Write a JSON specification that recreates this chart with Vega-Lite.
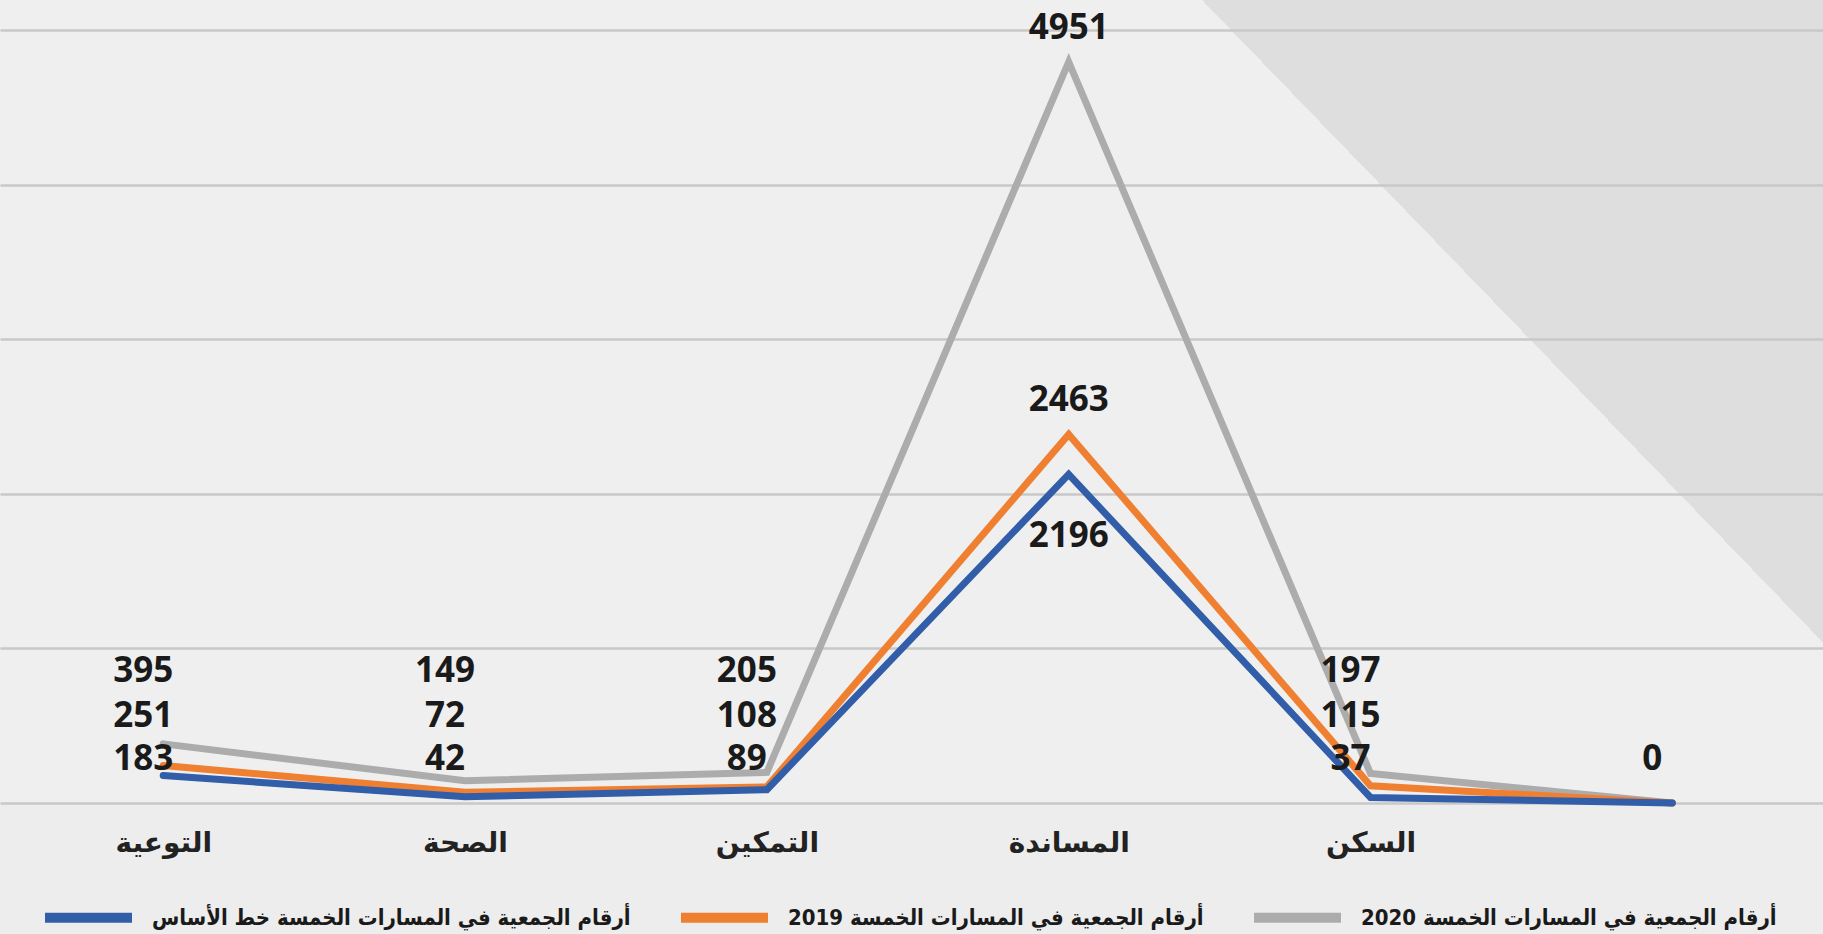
{
  "$schema": "https://vega.github.io/schema/vega-lite/v6.json",
  "width": 1823,
  "height": 803,
  "padding": 0,
  "background": "#ededed",
  "data": {
    "values": [
      {"category": "التوعية", "series": "أرقام الجمعية في المسارات الخمسة 2020", "value": 395},
      {"category": "الصحة", "series": "أرقام الجمعية في المسارات الخمسة 2020", "value": 149},
      {"category": "التمكين", "series": "أرقام الجمعية في المسارات الخمسة 2020", "value": 205},
      {"category": "المساندة", "series": "أرقام الجمعية في المسارات الخمسة 2020", "value": 4951},
      {"category": "السكن", "series": "أرقام الجمعية في المسارات الخمسة 2020", "value": 197},
      {"category": "", "series": "أرقام الجمعية في المسارات الخمسة 2020", "value": 0},
      {"category": "التوعية", "series": "أرقام الجمعية في المسارات الخمسة 2019", "value": 251},
      {"category": "الصحة", "series": "أرقام الجمعية في المسارات الخمسة 2019", "value": 72},
      {"category": "التمكين", "series": "أرقام الجمعية في المسارات الخمسة 2019", "value": 108},
      {"category": "المساندة", "series": "أرقام الجمعية في المسارات الخمسة 2019", "value": 2463},
      {"category": "السكن", "series": "أرقام الجمعية في المسارات الخمسة 2019", "value": 115},
      {"category": "", "series": "أرقام الجمعية في المسارات الخمسة 2019", "value": 0},
      {"category": "التوعية", "series": "أرقام الجمعية في المسارات الخمسة خط الأساس", "value": 183},
      {"category": "الصحة", "series": "أرقام الجمعية في المسارات الخمسة خط الأساس", "value": 42},
      {"category": "التمكين", "series": "أرقام الجمعية في المسارات الخمسة خط الأساس", "value": 89},
      {"category": "المساندة", "series": "أرقام الجمعية في المسارات الخمسة خط الأساس", "value": 2196},
      {"category": "السكن", "series": "أرقام الجمعية في المسارات الخمسة خط الأساس", "value": 37},
      {"category": "", "series": "أرقام الجمعية في المسارات الخمسة خط الأساس", "value": 0}
    ]
  },
  "encoding": {
    "x": {
      "field": "category",
      "type": "nominal",
      "sort": null,
      "scale": {"type": "point", "domain": ["التوعية", "الصحة", "التمكين", "المساندة", "السكن", ""], "padding": 0.52, "align": 0.52},
      "axis": {
        "title": null,
        "labelAngle": 0,
        "ticks": false,
        "domain": false,
        "grid": false,
        "labelFont": "DejaVu Sans",
        "labelFontWeight": "bold",
        "labelFontSize": 28,
        "labelColor": "#222222",
        "labelPadding": 40,
        "labelBaseline": "middle"
      }
    }
  },
  "layer": [
    {
      "mark": {"type": "line", "strokeWidth": 7, "strokeCap": "round", "strokeJoin": "miter"},
      "encoding": {
        "y": {
          "field": "value",
          "type": "quantitative",
          "scale": {"domain": [0, 5365], "nice": false, "zero": true},
          "axis": {
            "title": null,
            "labels": false,
            "ticks": false,
            "domain": false,
            "grid": true,
            "gridColor": "#c8c8c8",
            "gridWidth": 2.5,
            "values": [0, 1033, 2066, 3099, 4132, 5165]
          }
        },
        "color": {
          "field": "series",
          "type": "nominal",
          "scale": {
            "domain": ["أرقام الجمعية في المسارات الخمسة خط الأساس", "أرقام الجمعية في المسارات الخمسة 2019", "أرقام الجمعية في المسارات الخمسة 2020"],
            "range": ["#325da8", "#ef7f31", "#acacac"]
          },
          "legend": {
            "title": null,
            "orient": "none",
            "legendX": 40,
            "legendY": 869,
            "direction": "horizontal",
            "symbolType": "stroke",
            "symbolStrokeWidth": 10,
            "symbolSize": 7569,
            "labelFont": "DejaVu Sans Condensed",
            "labelFontWeight": "bold",
            "labelFontSize": 22,
            "labelColor": "#1a1a1a",
            "labelLimit": 800,
            "labelOffset": 15,
            "columnPadding": 30
          }
        }
      }
    },
    {
      "transform": [{"filter": "datum.category === 'المساندة' && datum.series !== 'أرقام الجمعية في المسارات الخمسة خط الأساس'"}],
      "mark": {"type": "text", "font": "Open Sans", "fontWeight": "bold", "fontSize": 35, "color": "#1a1a1a", "dy": -34, "baseline": "middle"},
      "encoding": {
        "y": {"field": "value", "type": "quantitative"},
        "text": {"field": "value", "type": "quantitative", "format": "d"}
      }
    },
    {
      "transform": [{"filter": "datum.category === 'المساندة' && datum.series === 'أرقام الجمعية في المسارات الخمسة خط الأساس'"}],
      "mark": {"type": "text", "font": "Open Sans", "fontWeight": "bold", "fontSize": 35, "color": "#1a1a1a", "dy": 62, "baseline": "middle"},
      "encoding": {
        "y": {"field": "value", "type": "quantitative"},
        "text": {"field": "value", "type": "quantitative", "format": "d"}
      }
    },
    {
      "transform": [{"filter": "datum.category !== 'المساندة' && datum.series === 'أرقام الجمعية في المسارات الخمسة خط الأساس'"}],
      "mark": {"type": "text", "font": "Open Sans", "fontWeight": "bold", "fontSize": 35, "color": "#1a1a1a", "dy": -44, "dx": -20, "baseline": "middle"},
      "encoding": {
        "y": {"datum": 0, "type": "quantitative"},
        "text": {"field": "value", "type": "quantitative", "format": "d"}
      }
    },
    {
      "transform": [{"filter": "datum.category !== 'المساندة' && datum.value > 0 && datum.series === 'أرقام الجمعية في المسارات الخمسة 2019'"}],
      "mark": {"type": "text", "font": "Open Sans", "fontWeight": "bold", "fontSize": 35, "color": "#1a1a1a", "dy": -87, "dx": -20, "baseline": "middle"},
      "encoding": {
        "y": {"datum": 0, "type": "quantitative"},
        "text": {"field": "value", "type": "quantitative", "format": "d"}
      }
    },
    {
      "transform": [{"filter": "datum.category !== 'المساندة' && datum.value > 0 && datum.series === 'أرقام الجمعية في المسارات الخمسة 2020'"}],
      "mark": {"type": "text", "font": "Open Sans", "fontWeight": "bold", "fontSize": 35, "color": "#1a1a1a", "dy": -132, "dx": -20, "baseline": "middle"},
      "encoding": {
        "y": {"datum": 0, "type": "quantitative"},
        "text": {"field": "value", "type": "quantitative", "format": "d"}
      }
    }
  ],
  "config": {
    "view": {
      "stroke": null,
      "fill": {
        "gradient": "linear",
        "x1": 0.5793,
        "y1": 0.0341,
        "x2": 0.7395,
        "y2": -0.0341,
        "stops": [
          {"offset": 0, "color": "#efefef"},
          {"offset": 0.5, "color": "#efefef"},
          {"offset": 0.5, "color": "#dedede"},
          {"offset": 1, "color": "#dedede"}
        ]
      }
    }
  }
}
